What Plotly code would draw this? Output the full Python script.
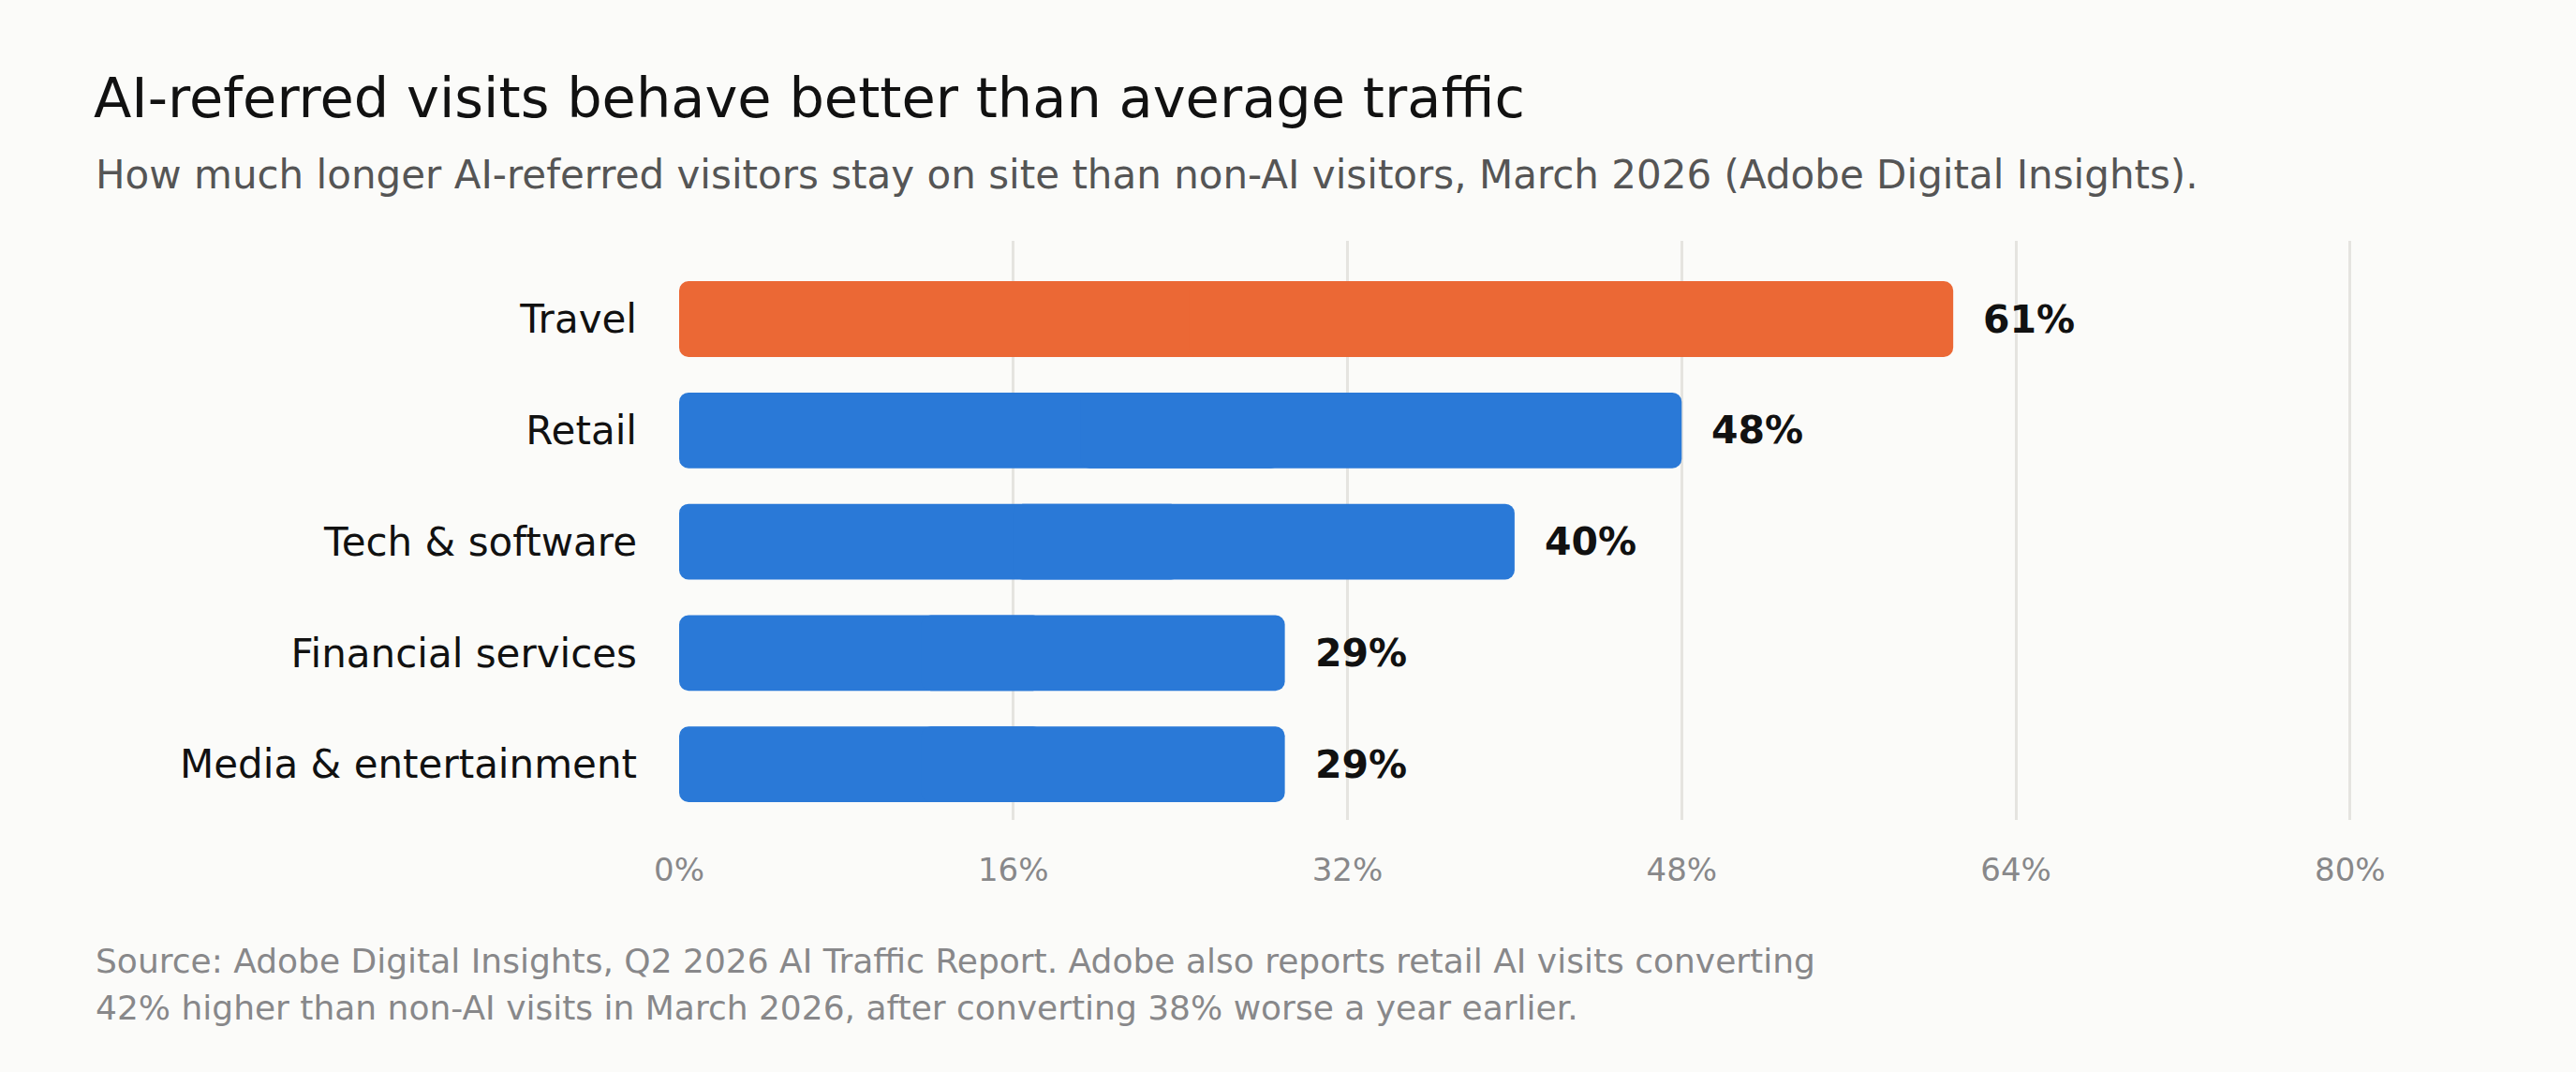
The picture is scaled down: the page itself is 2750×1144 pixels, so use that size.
import plotly.graph_objects as go

# ── data ────────────────────────────────────────────────────────────────────
categories = ["Travel", "Retail", "Tech & software", "Financial services", "Media & entertainment"]
values = [61, 48, 40, 29, 29]
highlight = [True, False, False, False, False]
tick_vals = [0, 16, 32, 48, 64, 80]
tick_text = ["0%", "16%", "32%", "48%", "64%", "80%"]

TITLE = "AI-referred visits behave better than average traffic"
SUBTITLE = ("How much longer AI-referred visitors stay on site than non-AI visitors, "
            "March 2026 (Adobe Digital Insights).")
SOURCE_1 = ("Source: Adobe Digital Insights, Q2 2026 AI Traffic Report. Adobe also reports "
            "retail AI visits converting")
SOURCE_2 = "42% higher than non-AI visits in March 2026, after converting 38% worse a year earlier."

# ── style ───────────────────────────────────────────────────────────────────
ORANGE = "#EB6835"
BLUE = "#2A79D7"
BG = "#FBFBF9"
FONT = "DejaVu Sans"

W, H = 2750, 1144
M_L, M_R, M_T, M_B = 725, 152, 257, 269
plot_w = W - M_L - M_R
plot_h = H - M_T - M_B


def px_to_paper_x(px):
    return (px - M_L) / plot_w


def px_to_paper_y(py):
    return (H - M_B - py) / plot_h


colors = [ORANGE if h else BLUE for h in highlight]

# plotly only rounds one end of a bar, so each bar is drawn as two overlapping
# pieces: one runs from 60% of the value back to zero (rounded at zero), the
# other from 40% of the value out to the value (rounded at the end)
left_base = [v * 0.6 for v in values]
right_base = [v * 0.4 for v in values]

fig = go.Figure()
fig.add_trace(go.Bar(
    x=[-b for b in left_base], base=left_base, y=categories, orientation="h",
    marker=dict(color=colors, line=dict(width=0), cornerradius=10),
    hoverinfo="skip",
))
fig.add_trace(go.Bar(
    x=[v - b for v, b in zip(values, right_base)], base=right_base,
    y=categories, orientation="h",
    marker=dict(color=colors, line=dict(width=0), cornerradius=10),
    hoverinfo="skip",
))

# value labels just past the bar ends
for cat, v in zip(categories, values):
    fig.add_annotation(
        x=v, y=cat, text=f"<b>{v}%</b>", showarrow=False,
        xanchor="left", yanchor="middle", xshift=30,
        font=dict(family=FONT, size=41, color="#111111"),
    )

# subtitle and source notes
fig.add_annotation(
    xref="paper", yref="paper", x=px_to_paper_x(100), y=px_to_paper_y(186),
    text=SUBTITLE, showarrow=False, xanchor="left", yanchor="middle",
    font=dict(family=FONT, size=42, color="#555555"),
)
fig.add_annotation(
    xref="paper", yref="paper", x=px_to_paper_x(100), y=px_to_paper_y(1025),
    text=SOURCE_1, showarrow=False, xanchor="left", yanchor="middle",
    font=dict(family=FONT, size=36, color="#88888A"),
)
fig.add_annotation(
    xref="paper", yref="paper", x=px_to_paper_x(100), y=px_to_paper_y(1075),
    text=SOURCE_2, showarrow=False, xanchor="left", yanchor="middle",
    font=dict(family=FONT, size=36, color="#88888A"),
)

fig.update_layout(
    width=W, height=H,
    paper_bgcolor=BG, plot_bgcolor=BG,
    margin=dict(l=M_L, r=M_R, t=M_T, b=M_B),
    barmode="overlay",
    bargap=0.32,
    showlegend=False,
    title=dict(
        text=TITLE, xref="container", yref="container",
        x=100 / W, xanchor="left", y=1 - 104 / H, yanchor="middle",
        font=dict(family=FONT, size=59, color="#111111"),
    ),
    font=dict(family=FONT),
)
fig.update_xaxes(
    range=[0, 84], tickvals=tick_vals, ticktext=tick_text,
    showgrid=True, gridcolor="#E5E4E0", gridwidth=3,
    zeroline=False, showline=False, ticks="",
    ticklabelstandoff=30,
    tickfont=dict(family=FONT, size=34, color="#88888A"),
)
fig.update_yaxes(
    range=[4.5, -0.703], showgrid=False, zeroline=False, showline=False, ticks="",
    ticklabelstandoff=44,
    tickfont=dict(family=FONT, size=42, color="#111111"),
)

# drop the browser's default page margin so the figure fills the window
fig.write_html("out.html", config={"displayModeBar": False},
               post_script="document.body.style.margin='0';")
